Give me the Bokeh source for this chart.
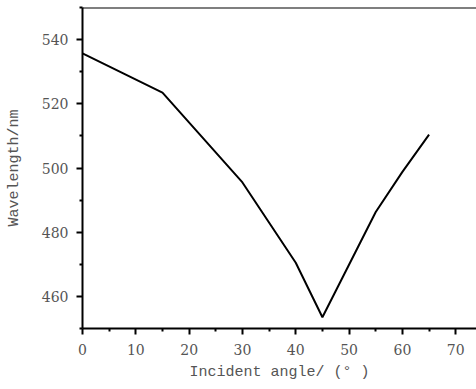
from bokeh.plotting import figure
from bokeh.models import Range1d, FixedTicker, Span
from bokeh.embed import file_html
from bokeh.resources import INLINE

angles = [0, 15, 30, 40, 45, 55, 60, 65]
wavelengths = [535.7, 523.5, 495.5, 470.5, 453.5, 486.3, 498.8, 510.4]
x_ticks = [0, 10, 20, 30, 40, 50, 60, 70]
y_ticks = [460, 480, 500, 520, 540]

p = figure(width=476, height=389, output_backend="svg", toolbar_location=None,
           x_range=Range1d(0, 73.9), y_range=Range1d(450, 550),
           min_border_left=82, min_border_right=0, min_border_top=7, min_border_bottom=61)
p.outline_line_color = None
p.grid.grid_line_color = None
p.background_fill_color = "white"
p.border_fill_color = "white"

p.line(angles, wavelengths, line_color="black", line_width=2)

p.add_layout(Span(location=550, dimension="width", line_color="black", line_width=2))

label_font = "Liberation Mono"
tick_font = "DejaVu Serif"
for ax in (p.xaxis[0], p.yaxis[0]):
    ax.axis_line_width = 2
    ax.axis_line_color = "black"
    ax.major_tick_line_width = 2
    ax.minor_tick_line_width = 2
    ax.major_tick_line_color = "black"
    ax.minor_tick_line_color = "black"
    ax.major_tick_out = 6
    ax.major_tick_in = 0
    ax.minor_tick_out = 3
    ax.minor_tick_in = 0
    ax.major_label_text_font = tick_font
    ax.major_label_text_font_size = "14px"
    ax.major_label_text_color = "#555555"
    ax.axis_label_text_font = label_font
    ax.axis_label_text_font_size = "15px"
    ax.axis_label_text_font_style = "normal"
    ax.axis_label_text_color = "#555555"

p.xaxis[0].ticker = FixedTicker(ticks=x_ticks, minor_ticks=[5, 15, 25, 35, 45, 55, 65])
p.yaxis[0].ticker = FixedTicker(ticks=y_ticks, minor_ticks=[450, 470, 490, 510, 530, 550])
p.xaxis[0].axis_label = "Incident angle/ (° )"
p.yaxis[0].axis_label = "Wavelength/nm"
p.xaxis[0].major_label_standoff = 9
p.xaxis[0].axis_label_standoff = 6
p.yaxis[0].major_label_standoff = 8
p.yaxis[0].axis_label_standoff = 16

open("out.html", "w").write(file_html(p, INLINE))
